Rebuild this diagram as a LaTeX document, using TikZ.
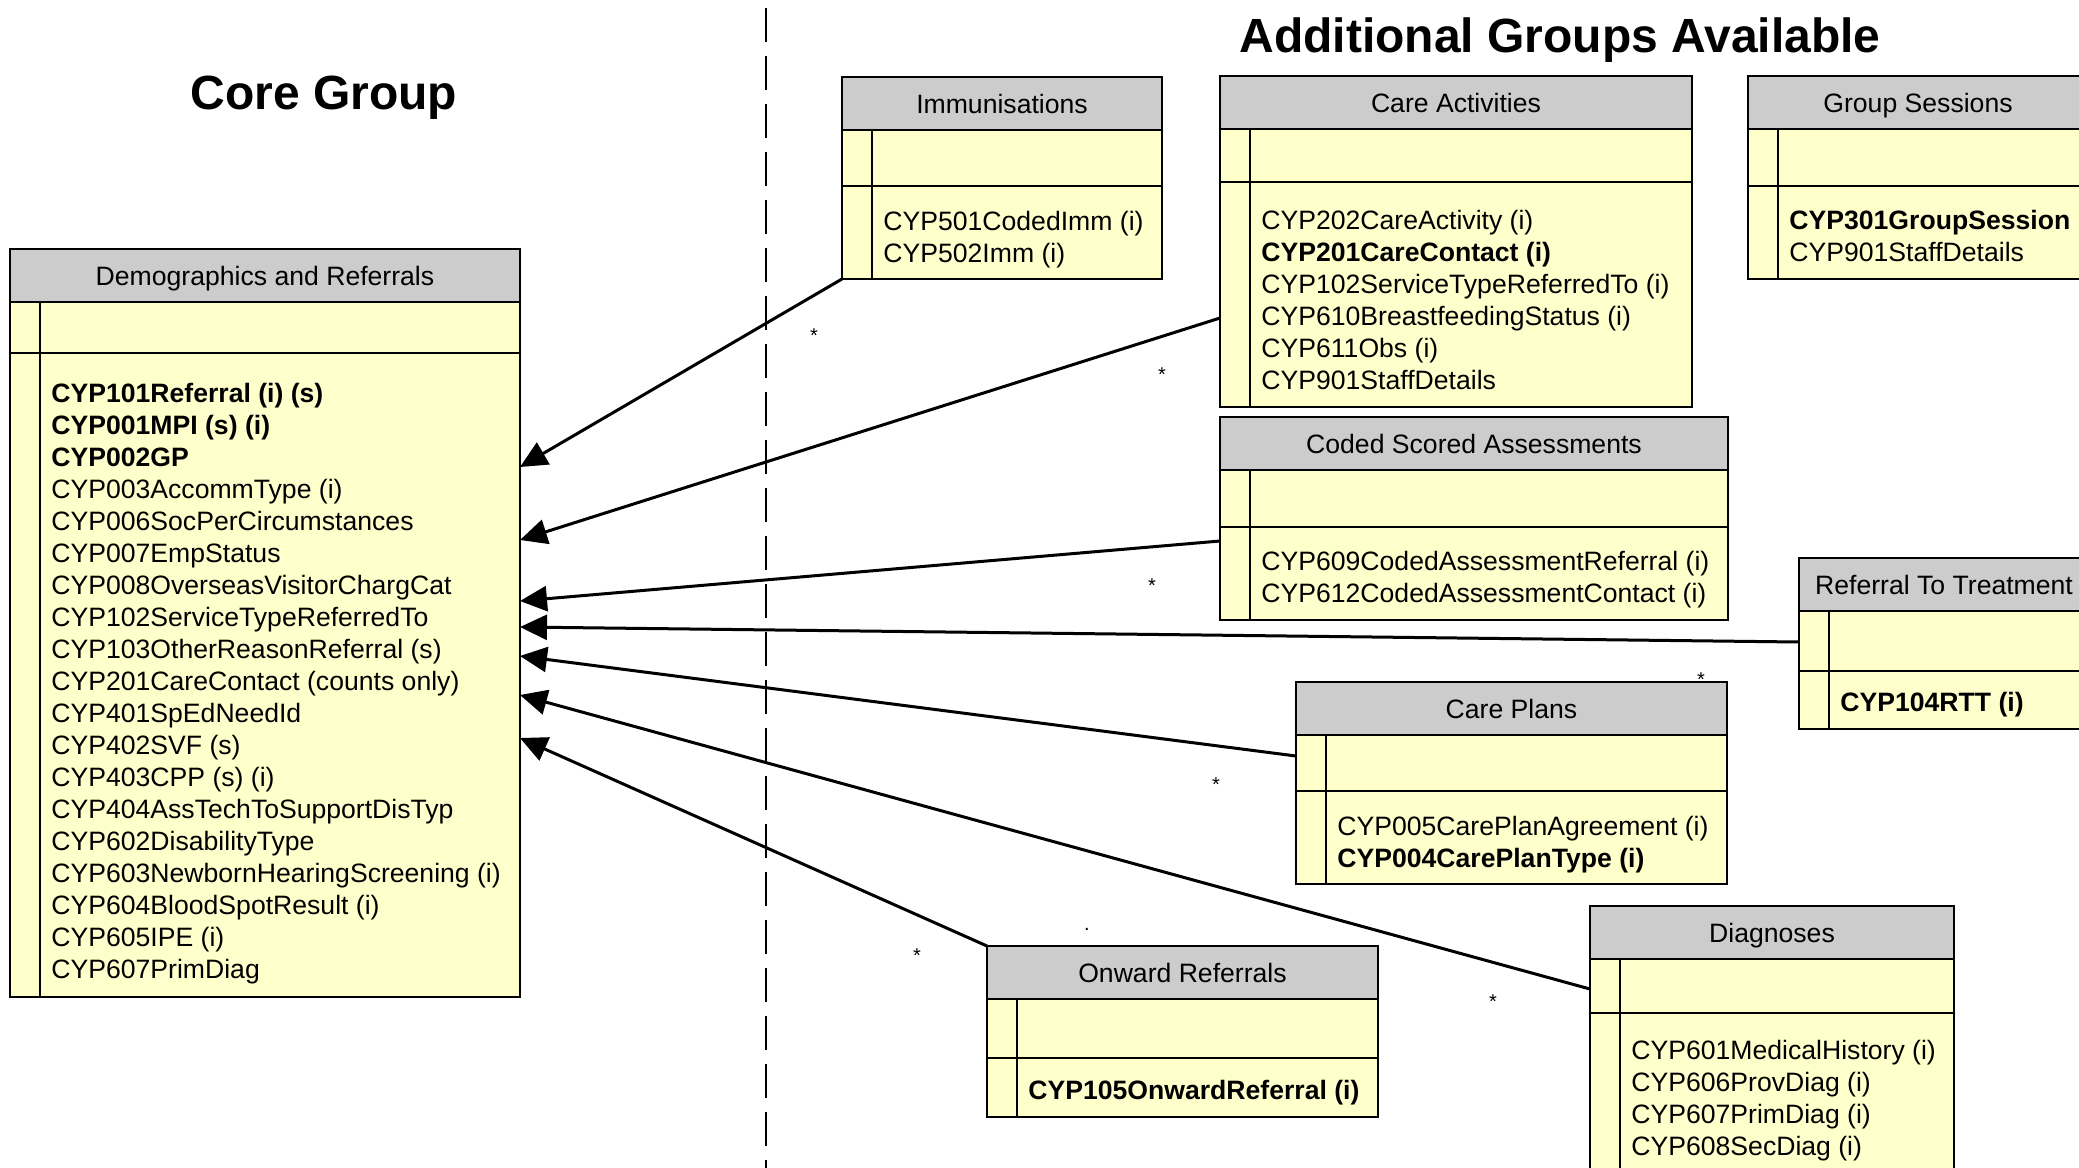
\documentclass[tikz,border=0pt]{standalone}
\usepackage{fontspec}
\setmainfont{Liberation Sans}
\usetikzlibrary{arrows.meta,calc}

\definecolor{headgrey}{HTML}{CCCCCC}
\definecolor{bodyyellow}{HTML}{FFFFCC}

\tikzstyle{boxbody}=[rectangle, fill=bodyyellow, anchor=north west, inner sep=0pt, outer sep=0pt]
\tikzstyle{boxline}=[line width=1pt]
\tikzstyle{boxtitle}=[anchor=base, font=\fontsize{13.3}{16}\selectfont, inner sep=0pt]
\tikzstyle{boxitems}=[anchor=north west, align=left, inner sep=0pt, font=\fontsize{13.3}{16}\selectfont]
\tikzstyle{assoc}=[-{Triangle[length=13.5pt, width=12.5pt]}, line width=1.5pt]
\tikzstyle{mult}=[font=\fontsize{10}{12}\selectfont, inner sep=0pt]
\tikzstyle{bigtitle}=[font=\fontsize{24}{28}\selectfont\bfseries, anchor=base, inner sep=0pt]
\tikzstyle{divider}=[line width=1pt, dash pattern=on 17pt off 7pt]

% group box: name, x, y, width, height, compartment offset, title, items
\newcommand{\groupbox}[8]{
  \node[boxbody, minimum width=#4*0.5pt, minimum height=#5*0.5pt] (#1) at (#2,#3) {};
  \fill[headgrey] (#1.north west) rectangle ($(#1.north east)+(0,53)$);
  \draw[boxline] ($(#1.north west)+(0,53)$) -- ($(#1.north east)+(0,53)$);
  \draw[boxline] ($(#1.north west)+(0,#6)$) -- ($(#1.north east)+(0,#6)$);
  \draw[boxline] ($(#1.north west)+(30,53)$) -- ($(#1.south west)+(30,0)$);
  \draw[boxline] (#1.north west) rectangle (#1.south east);
  \node[boxtitle] (#1-t) at ($(#1.north)+(0,36)$) {#7};
  \node[boxitems] (#1-i) at ($(#1.north west)+(41,134)$) {#8};
}

\begin{document}
\begin{tikzpicture}[x=0.5pt, y=-0.5pt]

\useasboundingbox (0,0) rectangle (2079,1168);
\clip (0,0) rectangle (2079,1168);

\node[bigtitle] (core) at (324,109) {Core Group};
\node[bigtitle] (extra) at (1560,52) {Additional Groups Available};
\draw[divider] (766,8) -- (766,1168);

\groupbox{demo}{10}{249}{510}{748}{104}{Demographics and Referrals}{%
  \textbf{CYP101Referral (i) (s)}\\ \textbf{CYP001MPI (s) (i)}\\ \textbf{CYP002GP}\\
  CYP003AccommType (i)\\ CYP006SocPerCircumstances\\ CYP007EmpStatus\\
  CYP008OverseasVisitorChargCat\\ CYP102ServiceTypeReferredTo\\
  CYP103OtherReasonReferral (s)\\ CYP201CareContact (counts only)\\
  CYP401SpEdNeedId\\ CYP402SVF (s)\\ CYP403CPP (s) (i)\\
  CYP404AssTechToSupportDisTyp\\ CYP602DisabilityType\\
  CYP603NewbornHearingScreening (i)\\ CYP604BloodSpotResult (i)\\
  CYP605IPE (i)\\ CYP607PrimDiag}

\groupbox{imm}{842}{77}{320}{202}{109}{Immunisations}{%
  CYP501CodedImm (i)\\ CYP502Imm (i)}
\groupbox{care}{1220}{76}{472}{331}{106}{Care Activities}{%
  CYP202CareActivity (i)\\ \textbf{CYP201CareContact (i)}\\
  CYP102ServiceTypeReferredTo (i)\\ CYP610BreastfeedingStatus (i)\\
  CYP611Obs (i)\\ CYP901StaffDetails}
\groupbox{group}{1748}{76}{340}{203}{110}{Group Sessions}{%
  \textbf{CYP301GroupSession}\\ CYP901StaffDetails}
\groupbox{coded}{1220}{417}{508}{203}{110}{Coded Scored Assessments}{%
  CYP609CodedAssessmentReferral (i)\\ CYP612CodedAssessmentContact (i)}
\groupbox{rtt}{1799}{558}{290}{171}{113}{Referral To Treatment}{%
  \textbf{CYP104RTT (i)}}
\groupbox{plans}{1296}{682}{431}{202}{109}{Care Plans}{%
  CYP005CarePlanAgreement (i)\\ \textbf{CYP004CarePlanType (i)}}
\groupbox{onward}{987}{946}{391}{171}{112}{Onward Referrals}{%
  \textbf{CYP105OnwardReferral (i)}}
\groupbox{diag}{1590}{906}{364}{300}{107}{Diagnoses}{%
  CYP601MedicalHistory (i)\\ CYP606ProvDiag (i)\\ CYP607PrimDiag (i)\\
  CYP608SecDiag (i)}

% links back to the core group
\draw[assoc] (imm.south west) -- ($(demo.north east)+(0,218)$);
\draw[assoc] ($(care.north west)+(0,242)$) -- ($(demo.north east)+(0,291)$);
\draw[assoc] ($(coded.north west)+(0,124)$) -- ($(demo.north east)+(0,352)$);
\draw[assoc] ($(rtt.north west)+(0,84)$) -- ($(demo.north east)+(0,378)$);
\draw[assoc] ($(plans.north west)+(0,74)$) -- ($(demo.north east)+(0,407)$);
\draw[assoc] ($(diag.north west)+(0,83)$) -- ($(demo.north east)+(0,446)$);
\draw[assoc] (onward.north west) -- ($(demo.north east)+(0,489)$);

\node[mult] (m1) at (814,336) {*};
\node[mult] (m2) at (1162,375) {*};
\node[mult] (m3) at (1152,586) {*};
\node[mult] (m4) at (1701,680) {*};
\node[mult] (m5) at (1216,785) {*};
\node[mult] (m6) at (1493,1002) {*};
\node[mult] (m7) at (917,956) {*};
\node[mult, anchor=base] (dot) at (1087,930) {.};

\end{tikzpicture}
\end{document}
